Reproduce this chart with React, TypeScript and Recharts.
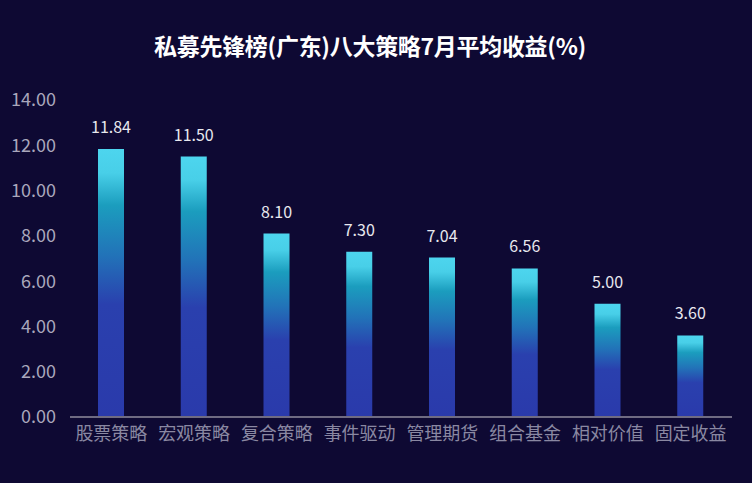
import React from "react";
import { BarChart, Bar, XAxis, YAxis, LabelList } from "recharts";

const categories = ["股票策略", "宏观策略", "复合策略", "事件驱动", "管理期货", "组合基金", "相对价值", "固定收益"];
const returns = [11.84, 11.5, 8.1, 7.3, 7.04, 6.56, 5.0, 3.6];
const yTicks = [0, 2, 4, 6, 8, 10, 12, 14];
const title = "私募先锋榜(广东)八大策略7月平均收益(%)";

const data = categories.map((name, i) => ({ name, value: returns[i] }));

const FONT = "'Noto Sans CJK SC', 'Noto Sans', sans-serif";

export default function App() {
  return (
    <div
      style={{
        position: "absolute",
        left: 0,
        top: 0,
        width: 752,
        height: 483,
        background: "#0e0933",
        fontFamily: FONT,
      }}
    >
      <div
        style={{
          position: "absolute",
          left: 0,
          top: 29,
          width: 740,
          textAlign: "center",
          color: "#ffffff",
          fontWeight: 700,
          fontSize: 23,
          lineHeight: "32px",
          letterSpacing: -0.3,
        }}
      >
        {title}
      </div>
      <BarChart
        width={752}
        height={483}
        data={data}
        margin={{ top: 100, right: 20, left: 0, bottom: 36 }}
      >
        <defs>
          <linearGradient id="barGrad" x1="0" y1="0" x2="0" y2="1">
            <stop offset="0" stopColor="#4dd5ee" />
            <stop offset="0.09" stopColor="#48cfe8" />
            <stop offset="0.21" stopColor="#1b9dbe" />
            <stop offset="0.4" stopColor="#2272b8" />
            <stop offset="0.58" stopColor="#2a40ae" />
            <stop offset="1" stopColor="#2a3aab" />
          </linearGradient>
        </defs>
        <XAxis
          dataKey="name"
          height={30}
          tickSize={0}
          tickMargin={10}
          axisLine={{ stroke: "#6f6b82", strokeWidth: 2 }}
          tickLine={false}
          interval={0}
          tick={{ fill: "#8a88a2", fontSize: 18, fontFamily: FONT }}
        />
        <YAxis
          width={70}
          domain={[0, 14]}
          ticks={yTicks}
          tickFormatter={(v: number) => v.toFixed(2)}
          axisLine={false}
          tickLine={false}
          tickSize={0}
          tickMargin={14}
          tick={{ fill: "#a9a7bc", fontSize: 18, fontFamily: FONT }}
        />
        <Bar dataKey="value" barSize={26} fill="url(#barGrad)" isAnimationActive={false}>
          <LabelList
            dataKey="value"
            position="top"
            offset={16}
            formatter={(v: number) => v.toFixed(2)}
            style={{ fill: "#e8e8ee", fontSize: 16, fontFamily: FONT }}
          />
        </Bar>
      </BarChart>
    </div>
  );
}
